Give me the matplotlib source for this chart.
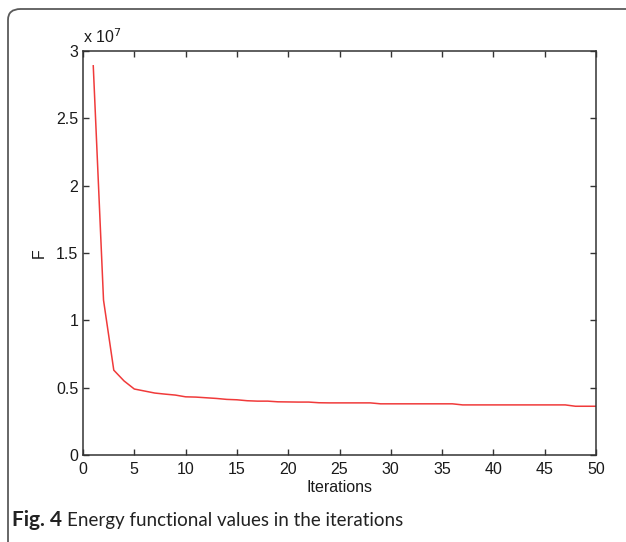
import matplotlib
matplotlib.use("Agg")
import matplotlib.pyplot as plt
from matplotlib.patches import FancyBboxPatch

iterations = list(range(1, 51))
F_values = [2.89, 1.15, 0.63, 0.55, 0.49, 0.475, 0.46, 0.452, 0.445, 0.432,
            0.43, 0.425, 0.42, 0.413, 0.41, 0.403, 0.40, 0.40, 0.395, 0.394,
            0.393, 0.393, 0.388, 0.387, 0.387, 0.387, 0.387, 0.387, 0.38, 0.38,
            0.38, 0.38, 0.38, 0.38, 0.38, 0.38, 0.372, 0.372, 0.372, 0.372,
            0.372, 0.372, 0.372, 0.372, 0.372, 0.372, 0.372, 0.362, 0.362, 0.362]
F_scaled = [v * 1e7 for v in F_values]
x_ticks = [0, 5, 10, 15, 20, 25, 30, 35, 40, 45, 50]
y_ticks = [0, 0.5, 1, 1.5, 2, 2.5, 3]
y_tick_labels = ["0", "0.5", "1", "1.5", "2", "2.5", "3"]

W, H = 626, 542
fig = plt.figure(figsize=(W / 100, H / 100), dpi=100)

# outer rounded frame (continues past the right and bottom edges)
frame = FancyBboxPatch((8 / W, -0.05), 1.1, 1 - 9 / H + 0.05,
                       boxstyle="round,pad=0,rounding_size=0.02",
                       transform=fig.transFigure, facecolor="none",
                       edgecolor="#5a5a5a", linewidth=1.3, zorder=0)
fig.patches.append(frame)

left, right, top, bottom = 83, 596, 51, 455
ax = fig.add_axes([left / W, 1 - bottom / H, (right - left) / W, (bottom - top) / H])
ax.set_zorder(2)
ax.plot(iterations, F_scaled, color="#f03a3a", linewidth=1.1)
ax.set_xlim(0, 50)
ax.set_ylim(0, 3e7)
ax.set_xticks(x_ticks)
ax.set_xticklabels([str(t) for t in x_ticks])
ax.set_yticks([t * 1e7 for t in y_ticks])
ax.set_yticklabels(y_tick_labels)
font = ["Liberation Sans", "DejaVu Sans"]
fs = 11.5
for lab in ax.get_xticklabels() + ax.get_yticklabels():
    lab.set_family(font)
    lab.set_fontsize(fs)
ax.tick_params(direction="in", length=4, width=1, top=True, right=True,
               colors="#333333", labelcolor="#1a1a1a", pad=4)
ax.tick_params(axis="y", pad=3.5)
ax.tick_params(axis="x", pad=5)
for s in ax.spines.values():
    s.set_color("#333333")
    s.set_linewidth(1.1)
ax.set_xlabel("Iterations", family=font, fontsize=fs, color="#1a1a1a")
ax.set_ylabel("F", family=font, fontsize=fs, color="#1a1a1a")
ax.xaxis.set_label_coords(0.5, -0.061)
ax.yaxis.set_label_coords(-0.07, 0.5)
ax.text(0.0, 1.012, r"x 10$^7$", transform=ax.transAxes, family=font,
        fontsize=fs, color="#1a1a1a", ha="left", va="bottom")

base_y = 1 - 526 / H
t_bold = fig.text(12 / W, base_y, "Fig. 4", fontsize=15, fontweight="bold",
                  color="#222222", family=["Lato", "DejaVu Sans"], ha="left", va="baseline")
fig.canvas.draw()
bb = t_bold.get_window_extent()
fig.text((bb.x1 + 5) / W, base_y, "Energy functional values in the iterations",
         fontsize=13.5, color="#222222", family=["Lato", "DejaVu Sans"],
         ha="left", va="baseline")

fig.savefig("out.png", dpi=100)
